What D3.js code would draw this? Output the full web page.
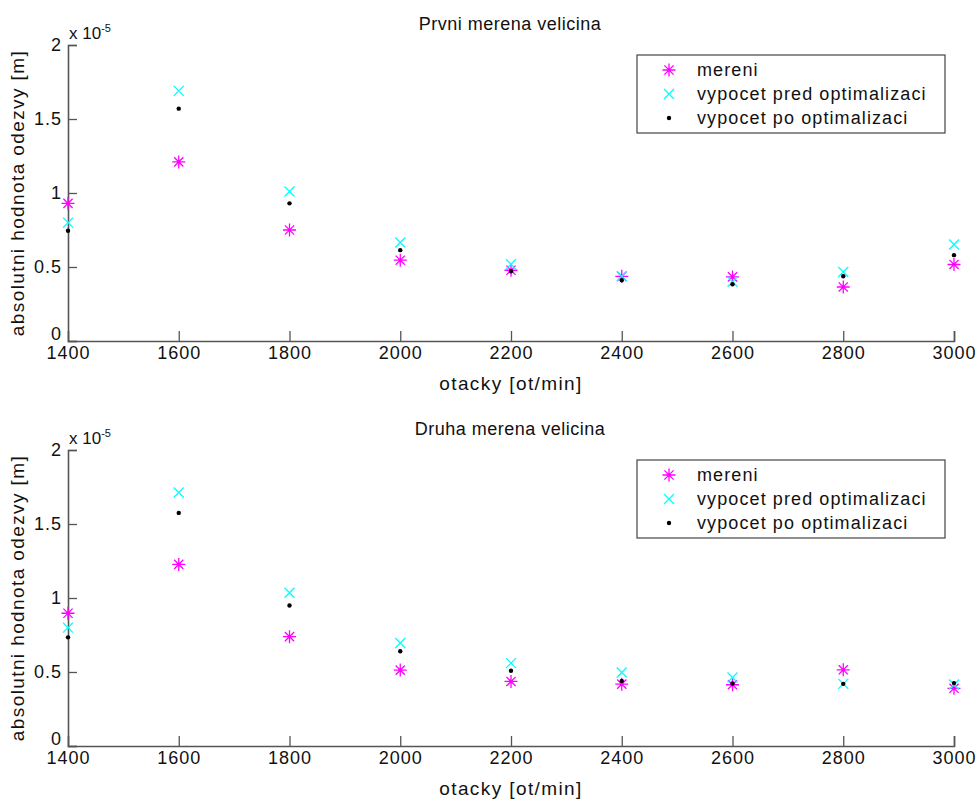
<!DOCTYPE html>
<html>
<head>
<meta charset="utf-8">
<script src="https://cdn.jsdelivr.net/npm/d3@7"></script>
<style>
  body { margin: 0; background: #fff; }
  text { font-family: "Liberation Sans", Arial, sans-serif; fill: #111; }
</style>
</head>
<body>
<div id="chart"></div>
<script>
const rpm = [1400, 1600, 1800, 2000, 2200, 2400, 2600, 2800, 3000];
const xTicks = [1400, 1600, 1800, 2000, 2200, 2400, 2600, 2800, 3000];
const yTicks = [0, 0.5, 1, 1.5, 2];
const seriesNames = ['mereni', 'vypocet pred optimalizaci', 'vypocet po optimalizaci'];

// values in units of 1e-5 m
const mereni1 = [0.93, 1.21, 0.75, 0.546, 0.478, 0.437, 0.433, 0.365, 0.517];
const pred1   = [0.80, 1.69, 1.01, 0.666, 0.519, 0.437, 0.40, 0.466, 0.652];
const po1     = [0.745, 1.57, 0.93, 0.614, 0.471, 0.41, 0.383, 0.437, 0.58];

const mereni2 = [0.897, 1.227, 0.739, 0.513, 0.436, 0.418, 0.414, 0.515, 0.39];
const pred2   = [0.80, 1.713, 1.035, 0.696, 0.56, 0.497, 0.463, 0.42, 0.415];
const po2     = [0.734, 1.575, 0.949, 0.64, 0.508, 0.44, 0.422, 0.42, 0.425];

const W = 980, H = 802;
const svg = d3.select('#chart').append('svg').attr('width', W).attr('height', H);

const axisColor = '#555';
const colors = ['#ff00ff', '#00ffff', '#000'];
const fontFam = '"Liberation Sans", Arial, sans-serif';

function starPath(s) {
  const r = s / 2, d = r * 0.7071;
  return `M${-r},0L${r},0M0,${-r}L0,${r}M${-d},${-d}L${d},${d}M${-d},${d}L${d},${-d}`;
}
function crossPath(s) {
  const r = s / 2;
  return `M${-r},${-r}L${r},${r}M${-r},${r}L${r},${-r}`;
}

function drawMarker(g, kind, x, y) {
  if (kind === 0) {
    g.append('path').attr('d', starPath(13)).attr('transform', `translate(${x},${y})`)
      .attr('stroke', colors[0]).attr('stroke-width', 1.3).attr('fill', 'none');
  } else if (kind === 1) {
    g.append('path').attr('d', crossPath(10)).attr('transform', `translate(${x},${y})`)
      .attr('stroke', colors[1]).attr('stroke-width', 1.3).attr('fill', 'none');
  } else {
    g.append('circle').attr('cx', x).attr('cy', y).attr('r', 2.2).attr('fill', colors[2]);
  }
}

function drawPanel(top, title, series) {
  const left = 68, right = 954;
  const y0 = top + 296, y1 = top;
  const x = d3.scaleLinear().domain([1400, 3000]).range([left, right]);
  const y = d3.scaleLinear().domain([0, 2]).range([y0, y1]);
  const g = svg.append('g');

  // x axis
  const xa = g.append('g').attr('transform', `translate(0,${y0})`)
    .call(d3.axisBottom(x).tickValues(xTicks).tickSize(-10).tickFormat(d3.format('d')));
  xa.select('.domain').attr('stroke', axisColor).attr('stroke-width', 1.6);
  xa.selectAll('.tick line').attr('stroke', axisColor).attr('stroke-width', 1.3);
  xa.selectAll('.tick text').attr('y', 5).attr('dy', '0.71em')
    .style('font-size', '18px').style('letter-spacing', '1px')
    .style('font-family', fontFam).attr('fill', '#111');
  xa.selectAll('.tick').filter(d => d === 1400).select('line').attr('opacity', 0);

  // y axis
  const ya = g.append('g').attr('transform', `translate(${left},0)`)
    .call(d3.axisLeft(y).tickValues(yTicks).tickSize(-9).tickFormat(d => d3.format('')(d)));
  ya.select('.domain').attr('stroke', axisColor).attr('stroke-width', 1.6);
  ya.selectAll('.tick line').attr('stroke', axisColor).attr('stroke-width', 1.3);
  ya.selectAll('.tick text').attr('x', -6)
    .style('font-size', '18px').style('letter-spacing', '1px')
    .style('font-family', fontFam).attr('fill', '#111');
  ya.selectAll('.tick').filter(d => d === 0).select('text').attr('dy', '-0.1em');

  // exponent label
  const ex = g.append('text').attr('x', left + 1).attr('y', top - 6).style('font-size', '17px');
  ex.append('tspan').text('x 10');
  ex.append('tspan').attr('dy', -7).style('font-size', '11px').text('-5');

  // title
  g.append('text').attr('x', 510).attr('y', top - 15).attr('text-anchor', 'middle')
    .style('font-size', '18px').style('letter-spacing', '0.5px').text(title);

  // axis labels
  g.append('text').attr('x', 511).attr('y', y0 + 49).attr('text-anchor', 'middle')
    .style('font-size', '19px').style('letter-spacing', '1.4px').text('otacky [ot/min]');
  g.append('text').attr('transform', `translate(24,${(y0 + y1) / 2}) rotate(-90)`)
    .attr('text-anchor', 'middle').style('font-size', '19px').style('letter-spacing', '1.4px')
    .text('absolutni hodnota odezvy [m]');

  // points
  const pts = g.append('g');
  series.forEach((vals, k) => {
    vals.forEach((v, i) => drawMarker(pts, k, x(rpm[i]), y(v)));
  });

  // legend
  const lg = g.append('g').attr('transform', `translate(637,${top + 10})`);
  lg.append('rect').attr('width', 308).attr('height', 78)
    .attr('fill', '#fff').attr('stroke', '#444').attr('stroke-width', 1.2);
  seriesNames.forEach((name, k) => {
    const cy = 15 + k * 24;
    drawMarker(lg, k, 32, cy);
    lg.append('text').attr('x', 60).attr('y', cy).attr('dy', '0.35em')
      .style('font-size', '18px').style('letter-spacing', '1.1px').text(name);
  });
}

drawPanel(45, 'Prvni merena velicina', [mereni1, pred1, po1]);
drawPanel(450, 'Druha merena velicina', [mereni2, pred2, po2]);
</script>
</body>
</html>
